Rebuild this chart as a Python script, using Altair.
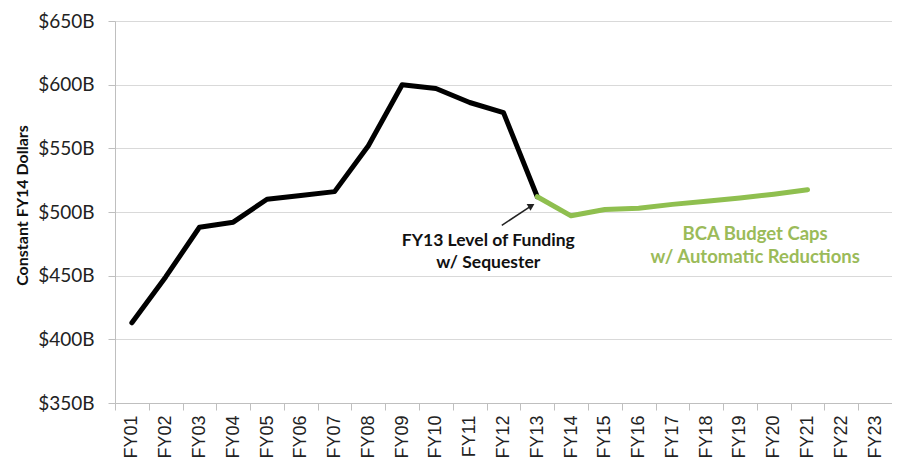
import altair as alt
import pandas as pd

years = [f"FY{i:02d}" for i in range(1, 24)]
black_years = years[0:13]
black_values = [413, 449, 488, 492, 510, 513, 516, 552, 600, 597, 586, 578, 512]
green_years = years[12:21]
green_values = [512, 497, 502, 503, 506, 508.5, 511, 514, 517.5]

y_ticks = [350, 400, 450, 500, 550, 600, 650]

df = pd.DataFrame(
    {"year": black_years + green_years,
     "value": black_values + green_values,
     "series": ["Actual"] * len(black_years) + ["BCA"] * len(green_years)}
)

# annotation positions in category units (0..23 across the plot)
arrow_df = pd.DataFrame({"x": [11.45], "y": [489.5], "x2": [12.3], "y2": [504.5]})
tip_df = pd.DataFrame({"x": [12.3], "y": [504.5]})
black_text = pd.DataFrame({"x": [11.05], "y": [477], "t": [["FY13 Level of Funding", "w/ Sequester"]]})
green_text = pd.DataFrame({"x": [18.95], "y": [482.5], "t": [["BCA Budget Caps", "w/ Automatic Reductions"]]})

yscale = alt.Scale(domain=[350, 650], nice=False, zero=False)

lines = alt.Chart(df).mark_line(strokeWidth=5, strokeJoin="round", strokeCap="round").encode(
    x=alt.X("year:O", sort=years, scale=alt.Scale(domain=years, paddingInner=0, paddingOuter=0),
            axis=alt.Axis(title=None, labelAngle=-90, tickBand="extent", labelFont="Liberation Sans",
                          labelFontSize=18, labelColor="#222222", domainColor="#bfbfbf", tickColor="#bfbfbf",
                          tickSize=7, labelPadding=5, grid=False)),
    y=alt.Y("value:Q", scale=yscale,
            axis=alt.Axis(values=y_ticks, labelExpr="'$' + datum.value + 'B'", title="Constant FY14 Dollars",
                          titleFont="Lato", titleFontSize=16, titleFontWeight="bold", titleColor="#111111",
                          titleX=-85, titleY=184, labelFont="Lato", labelFontSize=19, labelColor="#222222",
                          gridColor="#d9d9d9", domainColor="#bfbfbf", tickColor="#bfbfbf", tickSize=7,
                          labelPadding=14, grid=True)),
    color=alt.Color("series:N", scale=alt.Scale(domain=["Actual", "BCA"], range=["#000000", "#8fbf4f"]), legend=None),
)

xq = alt.Scale(domain=[0, 23], nice=False, zero=False)

arrow = alt.Chart(arrow_df).mark_rule(color="#222222", strokeWidth=1.5).encode(
    x=alt.X("x:Q", scale=xq, axis=None), x2="x2:Q",
    y=alt.Y("y:Q", scale=yscale), y2="y2:Q",
)
tip = alt.Chart(tip_df).mark_point(shape="triangle", filled=True, color="#222222", size=60, angle=60, opacity=1).encode(
    x=alt.X("x:Q", scale=xq, axis=None), y=alt.Y("y:Q", scale=yscale),
)
t1 = alt.Chart(black_text).mark_text(font="Lato", fontSize=17.5, fontWeight="bold", color="#111111",
                                     lineHeight=22, align="center", baseline="middle").encode(
    x=alt.X("x:Q", scale=xq, axis=None), y=alt.Y("y:Q", scale=yscale), text="t",
)
t2 = alt.Chart(green_text).mark_text(font="Lato", fontSize=18.5, fontWeight="bold", color="#9bbb59",
                                     lineHeight=23, align="center", baseline="middle").encode(
    x=alt.X("x:Q", scale=xq, axis=None), y=alt.Y("y:Q", scale=yscale), text="t",
)

chart = alt.layer(lines, arrow, tip, t1, t2).resolve_scale(x="independent").properties(
    width=777, height=382,
    autosize=alt.AutoSizeParams(type="none"),
    padding={"left": 107, "top": 13, "right": 0, "bottom": 58},
).configure_view(stroke=None).configure(background="white")

chart.save("out.html", embed_options={"renderer": "svg", "actions": False})
